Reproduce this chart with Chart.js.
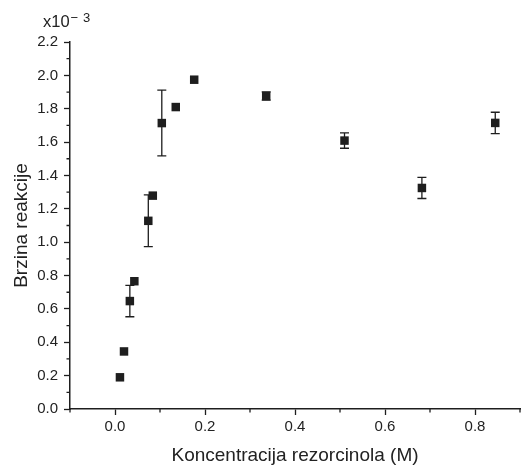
<!DOCTYPE html>
<html>
<head>
<meta charset="utf-8">
<script src="https://cdn.jsdelivr.net/npm/chart.js@4/dist/chart.umd.min.js"></script>
<style>
  html, body { margin: 0; background: #fff; }
  #wrap { width: 529px; height: 467px; }
</style>
</head>
<body>
<div id="wrap"><canvas id="rateChart"></canvas></div>
<script>
/* global Chart */

const concentration = [0.011, 0.02, 0.033, 0.043, 0.074, 0.084, 0.104, 0.135, 0.176, 0.336, 0.51, 0.682, 0.845];
const rate = [0.19, 0.345, 0.647, 0.766, 1.128, 1.279, 1.714, 1.81, 1.974, 1.876, 1.609, 1.325, 1.715];
const rateErr = [0, 0, 0.094, 0, 0.155, 0, 0.197, 0, 0, 0.025, 0.046, 0.063, 0.064];
const xTicks = [0, 0.2, 0.4, 0.6, 0.8];
const xMinorTicks = [-0.1, 0.1, 0.3, 0.5, 0.7, 0.9];
const yTicks = [0, 0.2, 0.4, 0.6, 0.8, 1.0, 1.2, 1.4, 1.6, 1.8, 2.0, 2.2];
const yMinorTicks = [0.1, 0.3, 0.5, 0.7, 0.9, 1.1, 1.3, 1.5, 1.7, 1.9, 2.1];

const FONT = '"Liberation Sans", Arial, sans-serif';
const INK = '#1e1e1e';

// error bars, drawn under the markers
const errorBars = {
  id: 'errorBars',
  beforeDatasetsDraw(chart) {
    const { ctx, scales: { x, y } } = chart;
    ctx.save();
    ctx.strokeStyle = INK;
    ctx.lineWidth = 1.3;
    for (let i = 0; i < rate.length; i += 1) {
      if (rateErr[i]) {
        const px = x.getPixelForValue(concentration[i]);
        const top = y.getPixelForValue(rate[i] + rateErr[i]);
        const bottom = y.getPixelForValue(rate[i] - rateErr[i]);
        ctx.beginPath();
        ctx.moveTo(px, top);
        ctx.lineTo(px, bottom);
        ctx.moveTo(px - 4.5, top);
        ctx.lineTo(px + 4.5, top);
        ctx.moveTo(px - 4.5, bottom);
        ctx.lineTo(px + 4.5, bottom);
        ctx.stroke();
      }
    }
    ctx.restore();
  },
};

// minor tick marks and the x10^-3 multiplier
const axisExtras = {
  id: 'axisExtras',
  afterDraw(chart) {
    const { ctx, chartArea, scales: { x, y } } = chart;
    ctx.save();
    ctx.strokeStyle = INK;
    ctx.lineWidth = 1.3;
    ctx.beginPath();
    xMinorTicks.forEach((v) => {
      const px = x.getPixelForValue(v);
      ctx.moveTo(px, chartArea.bottom);
      ctx.lineTo(px, chartArea.bottom + 3.5);
    });
    yMinorTicks.forEach((v) => {
      const py = y.getPixelForValue(v);
      ctx.moveTo(chartArea.left, py);
      ctx.lineTo(chartArea.left - 3.5, py);
    });
    ctx.stroke();

    ctx.fillStyle = '#222';
    ctx.textBaseline = 'alphabetic';
    ctx.font = `16.5px ${FONT}`;
    ctx.fillText('x10', chartArea.left - 27, 27);
    ctx.font = `13px ${FONT}`;
    ctx.fillText('\u2212', chartArea.left + 0.5, 22);
    ctx.fillText('3', chartArea.left + 13, 22);
    ctx.restore();
  },
};

function rateChart() {
  const config = {
    type: 'scatter',
    data: {
      datasets: [{
        data: concentration.map((c, i) => ({ x: c, y: rate[i] })),
        pointStyle: 'rect',
        radius: 6,
        hoverRadius: 6,
        backgroundColor: INK,
        borderColor: INK,
        borderWidth: 0,
      }],
    },
    plugins: [errorBars, axisExtras],
    options: {
      responsive: true,
      maintainAspectRatio: false,
      animation: false,
      layout: { padding: { top: 42, right: 9, left: 0, bottom: 0 } },
      plugins: {
        legend: { display: false },
        tooltip: { enabled: false },
      },
      scales: {
        x: {
          type: 'linear',
          min: -0.1,
          max: 0.9,
          afterBuildTicks: (scale) => { scale.ticks = xTicks.map((v) => ({ value: v })); },
          afterFit: (scale) => { scale.height = 58; },
          ticks: {
            color: '#222',
            padding: 3,
            font: { family: FONT, size: 15 },
            callback: (v) => Number(v).toFixed(1),
          },
          grid: { drawOnChartArea: false, color: INK, tickLength: 6, tickWidth: 1.3 },
          border: { display: true, color: INK, width: 1.5 },
          title: {
            display: true,
            text: 'Koncentracija rezorcinola (M)',
            color: '#222',
            font: { family: FONT, size: 19 },
            padding: { top: 0, bottom: 0 },
          },
        },
        y: {
          type: 'linear',
          min: 0,
          max: 2.2,
          afterBuildTicks: (scale) => { scale.ticks = yTicks.map((v) => ({ value: v })); },
          afterFit: (scale) => { scale.width = 70; },
          ticks: {
            color: '#222',
            padding: 6,
            font: { family: FONT, size: 15 },
            callback: (v) => Number(v).toFixed(1),
          },
          grid: { drawOnChartArea: false, color: INK, tickLength: 6, tickWidth: 1.3 },
          border: { display: true, color: INK, width: 1.5 },
          title: {
            display: true,
            text: 'Brzina reakcije',
            color: '#222',
            font: { family: FONT, size: 19 },
            padding: { top: 10, bottom: 0 },
          },
        },
      },
    },
  };

  return new Chart(document.getElementById('rateChart'), config);
}

rateChart();
</script>
</body>
</html>
